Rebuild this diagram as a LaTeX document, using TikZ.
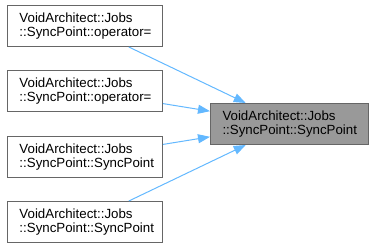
\documentclass[tikz,border=0pt]{standalone}
\usepackage{fontspec}
\setmainfont{Liberation Sans}
\usepackage{tikz}
\usetikzlibrary{arrows.meta}

\definecolor{edgeblue}{HTML}{63B8FF}
\definecolor{boxgray}{HTML}{666666}
\definecolor{curgray}{HTML}{999999}

\begin{document}
\begin{tikzpicture}[x=1pt,y=1pt,
    fn/.style={draw=boxgray, line width=1pt, anchor=north west, align=left,
        inner xsep=12pt, text width=131pt, minimum height=41pt,
        font=\fontsize{13.3}{14.5}\selectfont},
    call/.style={draw=edgeblue, line width=1pt,
        -{Triangle[length=12pt,width=9pt]}}]
\useasboundingbox (0,0) rectangle (373,-247);

\node[fn] (1) at (7,-5)
{VoidArchitect::Jobs\\::SyncPoint::operator=};

\node[fn] (2) at (7,-70)
{VoidArchitect::Jobs\\::SyncPoint::operator=};

\node[fn] (3) at (7,-136)
{VoidArchitect::Jobs\\::SyncPoint::SyncPoint};

\node[fn] (4) at (7,-201)
{VoidArchitect::Jobs\\::SyncPoint::SyncPoint};

\node[fn, fill=curgray, text width=134pt] (5) at (210,-103)
{VoidArchitect::Jobs\\::SyncPoint::SyncPoint};

\draw[call] (1) -- (5);

\draw[call] (2) -- (5);

\draw[call] (3) -- (5);

\draw[call] (4) -- (5);

\end{tikzpicture}
\end{document}
